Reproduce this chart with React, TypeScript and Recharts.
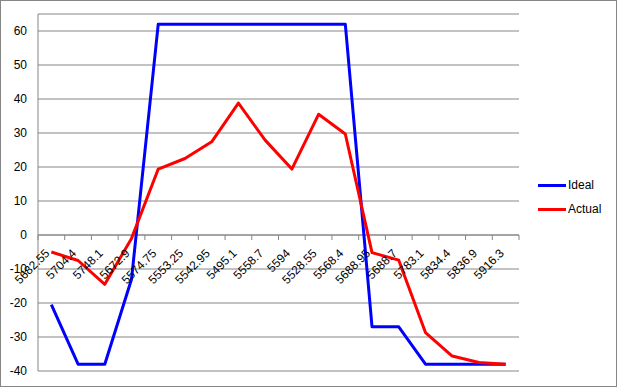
import React from 'react';
import { LineChart, Line, XAxis, YAxis, CartesianGrid, ReferenceLine } from 'recharts';

const categories = ['5682.55', '5704.4', '5748.1', '5672.9', '5574.75', '5553.25', '5542.95', '5495.1', '5558.7', '5594', '5528.55', '5568.4', '5688.95', '5688.7', '5783.1', '5834.4', '5836.9', '5916.3'];
const ideal = [-20.5, -38, -38, -13, 62, 62, 62, 62, 62, 62, 62, 62, -27, -27, -38, -38, -38, -38];
const actual = [-5, -7.5, -14.5, -1, 19.4, 22.5, 27.4, 38.8, 27.9, 19.4, 35.5, 29.7, -5.2, -7.4, -28.7, -35.6, -37.5, -38];
const yTicks = [-40, -30, -20, -10, 0, 10, 20, 30, 40, 50, 60];
const seriesNames = ['Ideal', 'Actual'];
const seriesColors = ['#0000FF', '#FF0000'];

const data = categories.map((c, i) => ({ cat: c, ideal: ideal[i], actual: actual[i], zero: 0 }));

const FONT = '"Liberation Sans", Arial, sans-serif';
const GRID = '#868686';

const AxisDot = (props: any) => {
  const { cx, cy, index, points } = props;
  if (cx == null || cy == null) return <g key={`t${index}`} />;
  let half = 13.35;
  if (points && points.length > 1) half = (points[1].x - points[0].x) / 2;
  const ax = cx - 1;
  const ay = cy + 19;
  return (
    <g key={`t${index}`}>
      {index === 0 && <line x1={cx - half} x2={cx - half} y1={cy} y2={cy + 5} stroke={GRID} strokeWidth={1} />}
      <line x1={cx + half} x2={cx + half} y1={cy} y2={cy + 5} stroke={GRID} strokeWidth={1} />
      <g transform={`translate(${ax.toFixed(2)},${ay.toFixed(2)}) rotate(-45)`}>
        <text x={0} y={0} textAnchor="end" fontSize={12} fontFamily={FONT} fill="#000">
          {categories[index]}
        </text>
      </g>
    </g>
  );
};

export default function App() {
  return (
    <div
      style={{
        position: 'absolute',
        left: 0,
        top: 0,
        width: 617,
        height: 387,
        boxSizing: 'border-box',
        border: `1px solid ${GRID}`,
        background: '#fff',
        fontFamily: FONT,
      }}
    >
      <LineChart width={615} height={385} data={data} margin={{ top: 13, right: 97, bottom: 15, left: 0 }}>
        <CartesianGrid vertical={false} stroke={GRID} strokeDasharray="" />
        <XAxis dataKey="cat" hide padding={{ left: 13.35, right: 13.35 }} />
        <YAxis
          width={37}
          domain={[-40, 65]}
          ticks={yTicks}
          allowDataOverflow
          interval={0}
          tickLine={false}
          tickSize={6}
          tickMargin={5}
          axisLine={{ stroke: GRID }}
          tick={{ fill: '#000', fontSize: 12, fontFamily: FONT }}
        />
        <ReferenceLine y={0} stroke={GRID} strokeWidth={1} />
        <Line
          dataKey="zero"
          stroke="none"
          isAnimationActive={false}
          legendType="none"
          activeDot={false}
          dot={AxisDot}
        />
        <Line dataKey="ideal" name={seriesNames[0]} stroke={seriesColors[0]} strokeWidth={3} dot={false} activeDot={false} isAnimationActive={false} strokeLinejoin="round" />
        <Line dataKey="actual" name={seriesNames[1]} stroke={seriesColors[1]} strokeWidth={3} dot={false} activeDot={false} isAnimationActive={false} strokeLinejoin="round" />
      </LineChart>
      <div style={{ position: 'absolute', left: 537, top: 172 }}>
        {seriesNames.map((n, i) => (
          <div key={n} style={{ display: 'flex', alignItems: 'center', height: 24 }}>
            <div style={{ width: 28, height: 3, background: seriesColors[i], marginRight: 2 }} />
            <span style={{ fontSize: 12, color: '#000', lineHeight: '14px' }}>{n}</span>
          </div>
        ))}
      </div>
    </div>
  );
}
